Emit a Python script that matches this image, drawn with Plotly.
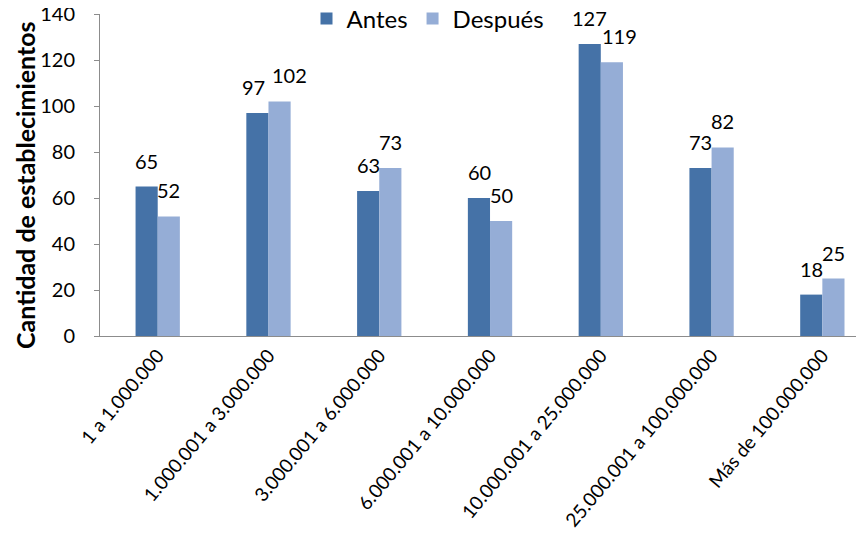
import plotly.graph_objects as go

categories = ["1 a 1.000.000", "1.000.001 a 3.000.000", "3.000.001 a 6.000.000",
              "6.000.001 a 10.000.000", "10.000.001 a 25.000.000",
              "25.000.001 a 100.000.000", "Más de 100.000.000"]
antes = [65, 97, 63, 60, 127, 73, 18]
despues = [52, 102, 73, 50, 119, 82, 25]
y_ticks = [0, 20, 40, 60, 80, 100, 120, 140]
y_title = "Cantidad de establecimientos"

FONT = "Lato, Carlito, Calibri, sans-serif"
C_ANTES = "#4572A7"
C_DESP = "#95ADD6"
# small horizontal nudges (px) for labels that would otherwise collide
label_nudge = {("Antes", 1): -4, ("Después", 1): 10, ("Después", 4): 8}

fig = go.Figure()
fig.add_trace(go.Bar(name="Antes", x=categories, y=antes, marker_color=C_ANTES,
                     marker_line_width=0))
fig.add_trace(go.Bar(name="Después", x=categories, y=despues, marker_color=C_DESP,
                     marker_line_width=0))

# data labels above each bar
for name, series, shift in (("Antes", antes, -11), ("Después", despues, 11)):
    for i, (cat, val) in enumerate(zip(categories, series)):
        fig.add_annotation(x=cat, y=val, xref="x", yref="y", text=str(val),
                           showarrow=False,
                           xshift=shift + label_nudge.get((name, i), 0), yshift=12,
                           yanchor="bottom", xanchor="center",
                           font=dict(size=20, family=FONT, color="black"))

# y-axis title
fig.add_annotation(x=0, y=0.5, xref="paper", yref="paper", text=f"<b>{y_title}</b>",
                   textangle=-90, showarrow=False, xanchor="center", yanchor="middle",
                   xshift=-75, yshift=-10, font=dict(size=25, family=FONT, color="black"))

# page body has an 8px margin: the figure is sized/margined to compensate
fig.update_layout(
    width=856, height=532,
    barmode="group", bargap=0.6, bargroupgap=0,
    paper_bgcolor="white", plot_bgcolor="white",
    font=dict(family=FONT, size=20, color="black"),
    margin=dict(l=92, r=2, t=6, b=204, autoexpand=False),
    showlegend=True,
    legend=dict(orientation="h", x=0.271, xanchor="left", y=0.985, yanchor="middle",
                font=dict(size=24, family=FONT), bgcolor="rgba(0,0,0,0)",
                itemwidth=30, traceorder="normal"),
)
fig.update_yaxes(range=[0, 140], tickvals=y_ticks, showgrid=False, zeroline=False,
                 showline=True, linecolor="#8c8c8c", linewidth=1,
                 ticks="outside", ticklen=5, tickcolor="#8c8c8c",
                 ticklabelstandoff=15, ticklabeloverflow="allow", automargin=False,
                 tickfont=dict(size=20, family=FONT))
fig.update_xaxes(range=[-0.521, 6.358], showgrid=False, showline=True,
                 linecolor="#8c8c8c", linewidth=1, automargin=False,
                 tickangle=-50, tickfont=dict(size=19, family=FONT), ticks="",
                 ticklabeloverflow="allow")

fig.write_html("out.html")
